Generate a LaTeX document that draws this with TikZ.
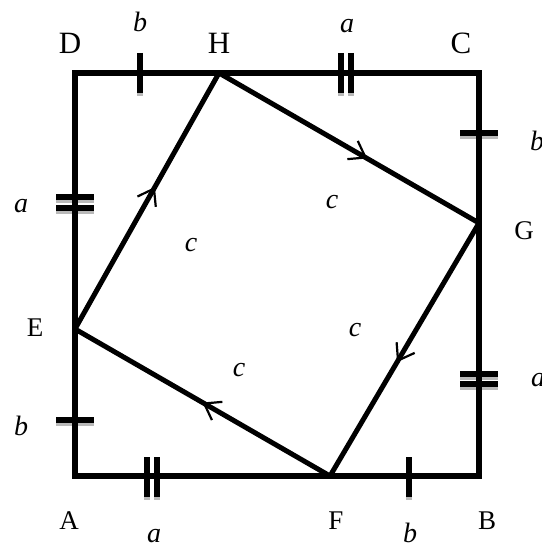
\documentclass[tikz,border=0pt]{standalone}
\usepackage{fontspec}
\setmainfont{Liberation Serif}
\usetikzlibrary{arrows.meta,decorations.markings}
\tikzset{
  sqline/.style={line width=5.5pt, line join=miter},
  inline/.style={line width=5pt, line join=round},
  tickmark/.style={line width=5.5pt, preaction={draw=gray!55, line width=5.5pt, transform canvas={yshift=-3pt}}},
  caplab/.style={inner sep=0pt, font=\fontsize{27}{30}\selectfont},
  toplab/.style={inner sep=0pt, font=\fontsize{31}{34}\selectfont},
  varlab/.style={inner sep=0pt, font=\fontsize{28}{30}\selectfont\itshape},
  midarrow/.style={postaction={decorate}, decoration={markings,
     mark=at position #1 with {\arrow{Straight Barb[length=15pt,width=21pt,line width=2.2pt]}}}}
}
\begin{document}
\begin{tikzpicture}[x=1pt,y=-1pt]
\useasboundingbox (0,0) rectangle (541,548);
\fill[white] (0,0) rectangle (541,548);
% corners and points
\coordinate (A) at (75,476);
\coordinate (B) at (479,476);
\coordinate (C) at (479,73);
\coordinate (D) at (75,73);
\coordinate (E) at (75,329);
\coordinate (F) at (330,476);
\coordinate (G) at (479,223);
\coordinate (H) at (219,73);
% tick marks
\draw[tickmark] (140,53) -- (140,93);
\draw[tickmark] (341,53) -- (341,93);
\draw[tickmark] (351,53) -- (351,93);
\draw[tickmark] (460,133) -- (498,133);
\draw[tickmark] (460,374) -- (498,374);
\draw[tickmark] (460,384) -- (498,384);
\draw[tickmark] (56,197) -- (94,197);
\draw[tickmark] (56,208) -- (94,208);
\draw[tickmark] (56,420) -- (94,420);
\draw[tickmark] (147,457) -- (147,497);
\draw[tickmark] (157,457) -- (157,497);
\draw[tickmark] (409,457) -- (409,497);
% outer square
\draw[sqline] (A) -- (B) -- (C) -- (D) -- cycle;
% inner square
\draw[inline] (E) -- (H) -- (G) -- (F) -- cycle;
\path[midarrow=0.555] (E) -- (H);
\path[midarrow=0.57] (H) -- (G);
\path[midarrow=0.55] (G) -- (F);
\path[midarrow=0.5] (F) -- (E);
% labels
\node[toplab] (lD) at (70,43) {D};
\node[toplab] (lH) at (219,43) {H};
\node[toplab] (lC) at (461,43) {C};
\node[varlab] (lb1) at (140,22) {b};
\node[varlab] (la1) at (347,26) {a};
\node[caplab] (lG) at (524,231) {G};
\node[varlab, anchor=west] (lb2) at (530,141) {b};
\node[varlab, anchor=west] (la2) at (531,380) {a};
\node[varlab] (la3) at (21,206) {a};
\node[caplab] (lE) at (35,328) {E};
\node[varlab] (lb3) at (21,426) {b};
\node[caplab] (lA) at (69,521) {A};
\node[caplab] (lF) at (336,521) {F};
\node[caplab] (lB) at (487,521) {B};
\node[varlab] (la4) at (154,536) {a};
\node[varlab] (lb4) at (410,533) {b};
\node[varlab] (c1) at (191,245) {c};
\node[varlab] (c2) at (332,202) {c};
\node[varlab] (c3) at (355,330) {c};
\node[varlab] (c4) at (239,370) {c};
\end{tikzpicture}
\end{document}
